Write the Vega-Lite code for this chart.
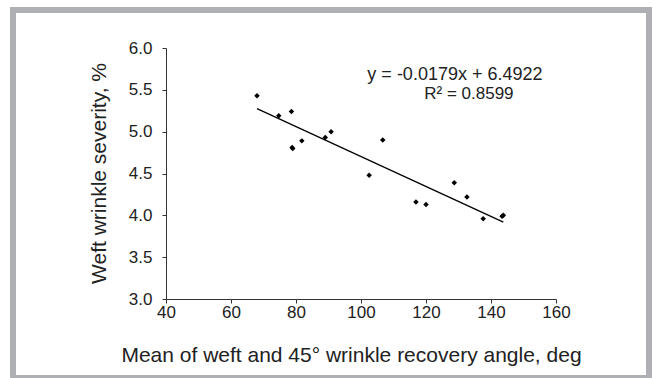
{
  "$schema": "https://vega.github.io/schema/vega-lite/v6.json",
  "width": 636,
  "height": 368,
  "autosize": {"type": "none"},
  "padding": {"left": 13, "top": 10, "right": 6, "bottom": 0},
  "background": "white",
  "config": {
    "view": {"stroke": "#aeb0b3", "strokeWidth": 6, "fill": "white"},
    "font": "Liberation Sans",
    "axis": {
      "grid": false,
      "domainColor": "#333333",
      "tickColor": "#333333",
      "labelColor": "#222222",
      "titleColor": "#222222",
      "labelFont": "Liberation Sans",
      "titleFont": "Liberation Sans",
      "labelFontSize": 17,
      "titleFontSize": 21,
      "titleFontWeight": "normal",
      "tickSize": 4,
      "labelFlush": false,
      "labelOverlap": false
    }
  },
  "datasets": {
    "points": [
      {"angle": 68.0, "severity": 5.43},
      {"angle": 74.7, "severity": 5.19},
      {"angle": 78.6, "severity": 5.24},
      {"angle": 78.8, "severity": 4.81},
      {"angle": 79.0, "severity": 4.8},
      {"angle": 81.8, "severity": 4.89},
      {"angle": 89.0, "severity": 4.93},
      {"angle": 90.8, "severity": 5.0},
      {"angle": 102.5, "severity": 4.48},
      {"angle": 106.7, "severity": 4.9},
      {"angle": 116.9, "severity": 4.16},
      {"angle": 120.0, "severity": 4.13},
      {"angle": 128.7, "severity": 4.39},
      {"angle": 132.6, "severity": 4.22},
      {"angle": 137.6, "severity": 3.96},
      {"angle": 143.4, "severity": 3.99},
      {"angle": 143.8, "severity": 4.0}
    ],
    "trend": [
      {"angle": 68.0, "severity": 5.275},
      {"angle": 143.8, "severity": 3.918}
    ],
    "labels": [
      {"angle": 128.9, "severity": 5.612, "label": "y = -0.0179x + 6.4922", "size": "big"},
      {"angle": 133.2, "severity": 5.396, "label": "R² = 0.8599", "size": "small"}
    ]
  },
  "layer": [
    {
      "data": {"name": "points"},
      "mark": {"type": "point", "shape": "diamond", "filled": true, "color": "black", "size": 30, "opacity": 1},
      "encoding": {
        "x": {
          "field": "angle", "type": "quantitative",
          "scale": {"domain": [40, 160], "range": [153, 543], "nice": false, "zero": false},
          "axis": {
            "values": [40, 60, 80, 100, 120, 140, 160],
            "offset": -79,
            "labelPadding": 1,
            "titleX": 338,
            "titleY": 62,
            "titleBaseline": "alphabetic",
            "titleAlign": "center"
          },
          "title": "Mean of weft and 45° wrinkle recovery angle, deg"
        },
        "y": {
          "field": "severity", "type": "quantitative",
          "scale": {"domain": [3, 6], "range": [289, 38], "nice": false, "zero": false},
          "axis": {
            "values": [3, 3.5, 4, 4.5, 5, 5.5, 6],
            "format": ".1f",
            "offset": -153,
            "labelPadding": 10,
            "titleX": -61,
            "titleY": 163,
            "titleAngle": 270,
            "titleBaseline": "alphabetic",
            "titleAlign": "center"
          },
          "title": "Weft wrinkle severity, %"
        }
      }
    },
    {
      "data": {"name": "trend"},
      "mark": {"type": "line", "color": "black", "strokeWidth": 1.3},
      "encoding": {
        "x": {"field": "angle", "type": "quantitative"},
        "y": {"field": "severity", "type": "quantitative"}
      }
    },
    {
      "data": {"name": "labels"},
      "mark": {"type": "text", "font": "Liberation Sans", "color": "#222222", "align": "center", "baseline": "alphabetic"},
      "encoding": {
        "x": {"field": "angle", "type": "quantitative"},
        "y": {"field": "severity", "type": "quantitative"},
        "text": {"field": "label", "type": "nominal"},
        "size": {"field": "size", "type": "nominal", "scale": {"domain": ["big", "small"], "range": [18, 17]}, "legend": null}
      }
    }
  ]
}
